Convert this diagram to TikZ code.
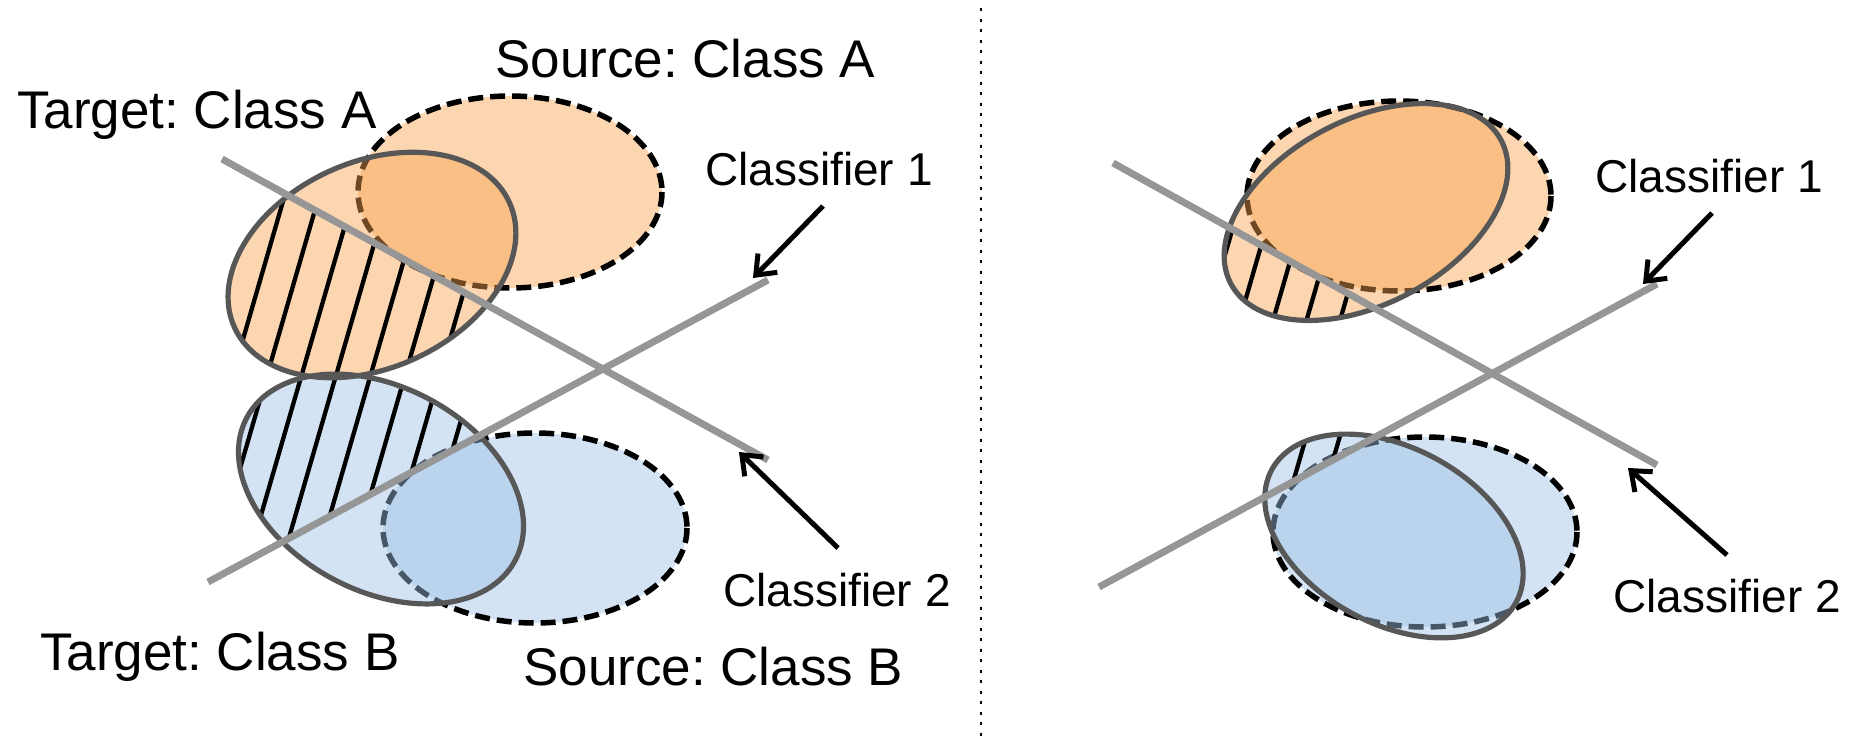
\documentclass[tikz,border=0pt]{standalone}
\usepackage{fontspec}
\setmainfont{Liberation Sans}
\usetikzlibrary{arrows.meta,calc}
\frenchspacing

\definecolor{peachbase}{RGB}{247,163,80}
\definecolor{skybase}{RGB}{157,193,231}
\definecolor{rimgray}{RGB}{87,87,87}
\definecolor{boundgray}{RGB}{150,150,150}

\begin{document}
\begin{tikzpicture}[x=1pt,y=-1pt,
  cloud/.style={fill=#1, fill opacity=0.45},
  srcrim/.style={draw=black, line width=5.5pt, dash pattern=on 15pt off 7pt},
  tgtrim/.style={draw=rimgray, line width=5.2pt},
  boundary/.style={draw=boundgray, line width=7pt},
  hatchline/.style={draw=black, line width=4.3pt},
  pointer/.style={draw=black, line width=5pt, -{Straight Barb[length=17pt,width=27pt]}},
  biglabel/.style={anchor=base west, inner sep=0pt, font=\fontsize{53}{60}\selectfont},
  smalllabel/.style={anchor=base west, inner sep=0pt, font=\fontsize{46}{54}\selectfont},
  separator/.style={draw=black, line width=2.2pt, dash pattern=on 3pt off 7.5pt},
]
\useasboundingbox (0,0) rectangle (1861,737);

% ---------------- left panel: before adaptation ----------------
\coordinate (sA) at (510,192);
\coordinate (sB) at (535,528);
\coordinate (tA) at (372,265);
\coordinate (tB) at (381,489);
\coordinate (L1s) at (222,159);
\coordinate (L1e) at (768,460);
\coordinate (L2s) at (208,582);
\coordinate (L2e) at (768,280);
\coordinate (X1) at (intersection of L1s--L1e and L2s--L2e);

% source distributions
\draw[srcrim, cloud=peachbase] (sA) ellipse [x radius=152, y radius=96];
\draw[srcrim, cloud=skybase] (sB) ellipse [x radius=152, y radius=95];
% target distributions (fill)
\fill[cloud=peachbase, rotate around={24.5:(tA)}] (tA) ellipse [x radius=151, y radius=103];
\fill[cloud=skybase, rotate around={-28:(tB)}] (tB) ellipse [x radius=152, y radius=102];
% hatching: target samples inside the disagreement wedge
\begin{scope}
  \clip (X1) -- ($(X1)!4!(L1s)$) -- ($(X1)!4!(L2s)$) -- cycle;
  \clip[rotate around={24.5:(tA)}] (tA) ellipse [x radius=151, y radius=103];
  \foreach \k in {-3,...,10}
    \draw[hatchline] ({324+34.5*\k},60) -- ({138.4+34.5*\k},700);
\end{scope}
\begin{scope}
  \clip (X1) -- ($(X1)!4!(L1s)$) -- ($(X1)!4!(L2s)$) -- cycle;
  \clip[rotate around={-28:(tB)}] (tB) ellipse [x radius=152, y radius=102];
  \foreach \k in {-3,...,10}
    \draw[hatchline] ({324+34.5*\k},60) -- ({138.4+34.5*\k},700);
\end{scope}
% target outlines
\draw[tgtrim, rotate around={24.5:(tA)}] (tA) ellipse [x radius=151, y radius=103];
\draw[tgtrim, rotate around={-28:(tB)}] (tB) ellipse [x radius=152, y radius=102];
% decision boundaries
\draw[boundary] (L1s) -- (L1e);
\draw[boundary] (L2s) -- (L2e);

% labels and pointers
\node[biglabel] (srcAlab) at (495,77) {Source: Class A};
\node[biglabel] (tgtAlab) at (17,128) {Target: Class A};
\node[biglabel] (tgtBlab) at (40,670) {Target: Class B};
\node[biglabel] (srcBlab) at (523,685) {Source: Class B};
\node[smalllabel] (c1lab) at (705,185) {Classifier 1};
\node[smalllabel] (c2lab) at (723,606) {Classifier 2};
\coordinate (p1s) at (823,206);
\coordinate (p1e) at (753,278);
\coordinate (p2s) at (838,548);
\coordinate (p2e) at (739,452);
\draw[pointer] (p1s) -- (p1e);
\draw[pointer] (p2s) -- (p2e);

% ---------------- divider ----------------
\coordinate (divtop) at (981,8);
\coordinate (divbot) at (981,737);
\draw[separator] (divtop) -- (divbot);

% ---------------- right panel: after adaptation ----------------
\coordinate (sA2) at (1399,196);
\coordinate (sB2) at (1425,532);
\coordinate (tA2) at (1366,212);
\coordinate (tB2) at (1394,536);
\coordinate (M1s) at (1113,163);
\coordinate (M1e) at (1657,465);
\coordinate (M2s) at (1099,587);
\coordinate (M2e) at (1657,284);
\coordinate (X2) at (intersection of M1s--M1e and M2s--M2e);

\draw[srcrim, cloud=peachbase] (sA2) ellipse [x radius=152, y radius=95];
\draw[srcrim, cloud=skybase] (sB2) ellipse [x radius=152, y radius=95];
\fill[cloud=peachbase, rotate around={28:(tA2)}] (tA2) ellipse [x radius=153, y radius=92];
\fill[cloud=skybase, rotate around={-28.5:(tB2)}] (tB2) ellipse [x radius=139, y radius=88];
\begin{scope}
  \clip (X2) -- ($(X2)!4!(M1s)$) -- ($(X2)!4!(M2s)$) -- cycle;
  \clip[rotate around={28:(tA2)}] (tA2) ellipse [x radius=153, y radius=92];
  \foreach \k in {-3,...,10}
    \draw[hatchline] ({1315+33.5*\k},60) -- ({1129.4+33.5*\k},700);
\end{scope}
\begin{scope}
  \clip (X2) -- ($(X2)!4!(M1s)$) -- ($(X2)!4!(M2s)$) -- cycle;
  \clip[rotate around={-28.5:(tB2)}] (tB2) ellipse [x radius=139, y radius=88];
  \foreach \k in {-3,...,10}
    \draw[hatchline] ({1315+33.5*\k},60) -- ({1129.4+33.5*\k},700);
\end{scope}
\draw[tgtrim, rotate around={28:(tA2)}] (tA2) ellipse [x radius=153, y radius=92];
\draw[tgtrim, rotate around={-28.5:(tB2)}] (tB2) ellipse [x radius=139, y radius=88];
\draw[boundary] (M1s) -- (M1e);
\draw[boundary] (M2s) -- (M2e);

\node[smalllabel] (c1lab2) at (1595,192) {Classifier 1};
\node[smalllabel] (c2lab2) at (1613,612) {Classifier 2};
\coordinate (q1s) at (1712,213);
\coordinate (q1e) at (1643,284);
\coordinate (q2s) at (1727,555);
\coordinate (q2e) at (1628,468);
\draw[pointer] (q1s) -- (q1e);
\draw[pointer] (q2s) -- (q2e);

\end{tikzpicture}
\end{document}
